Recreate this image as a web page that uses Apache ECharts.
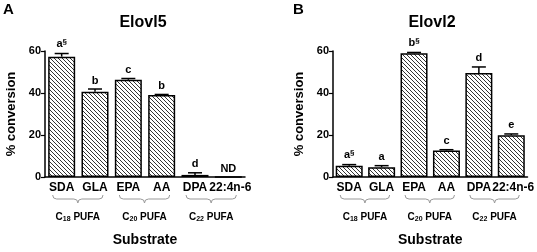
<!DOCTYPE html>
<html>
<head>
<meta charset="utf-8">
<script src="https://cdn.jsdelivr.net/npm/echarts@6/dist/echarts.min.js"></script>
<style>
  html, body { margin: 0; padding: 0; background: #fff; }
  #chart { width: 537px; height: 252px; }
</style>
</head>
<body>
<div id="chart"></div>
<script>
// 底物
const categories = ['SDA', 'GLA', 'EPA', 'AA', 'DPA', '22:4n-6']
// Elovl5 转化率 (均值 / 误差)
const elovl5Mean = [57.3, 40.6, 46.3, 39.0, 1.0, 0]
const elovl5Err = [1.5, 1.3, 0.6, 0.3, 1.0, 0]
const elovl5Letters = ['a§', 'b', 'c', 'b', 'd', 'ND']
// Elovl2 转化率
const elovl2Mean = [5.3, 4.7, 58.9, 12.6, 49.5, 19.9]
const elovl2Err = [0.6, 0.7, 0.4, 0.4, 2.9, 0.6]
const elovl2Letters = ['a§', 'a', 'b§', 'c', 'd', 'e']
// 分组
const groupCarbons = ['18', '20', '22']
const groupStart = [0, 2, 4]
const groupEnd = [1, 3, 5]
const yTicks = [0, 20, 40, 60]

const font = 'Liberation Sans, Arial, sans-serif'

// 斜线填充
function hatch() {
  const s = 4
  const c = document.createElement('canvas')
  c.width = s
  c.height = s
  const ctx = c.getContext('2d')
  ctx.fillStyle = '#fff'
  ctx.fillRect(0, 0, s, s)
  ctx.strokeStyle = '#000'
  ctx.lineWidth = 0.8
  ctx.beginPath()
  ctx.moveTo(-1, -1); ctx.lineTo(s + 1, s + 1)
  ctx.moveTo(-1, s - 1); ctx.lineTo(1, s + 1)
  ctx.moveTo(s - 1, -1); ctx.lineTo(s + 1, 1)
  ctx.stroke()
  return c
}
const pattern = hatch()

const myChart = echarts.init(document.getElementById('chart'))

function errorSeries(idx, mean, err, letters) {
  return {
    type: 'custom',
    xAxisIndex: idx,
    yAxisIndex: idx,
    clip: false,
    z: 5,
    data: mean.map((m, i) => [i, m, err[i]]),
    renderItem: (params, api) => {
      const i = api.value(0)
      const m = api.value(1)
      const e = api.value(2)
      const base = api.coord([i, m])
      const top = api.coord([i, m + e])
      const children = []
      if (e > 0) {
        children.push({ type: 'line', shape: { x1: base[0], y1: base[1], x2: top[0], y2: top[1] }, style: { stroke: '#000', lineWidth: 1.5 } })
        children.push({ type: 'line', shape: { x1: top[0] - 7, y1: top[1], x2: top[0] + 7, y2: top[1] }, style: { stroke: '#000', lineWidth: 1.5 } })
      }
      const lab = letters[params.dataIndex]
      const txt = lab.indexOf('§') >= 0 ? lab.replace('§', '') + '{sup|§}' : lab
      children.push({
        type: 'text',
        style: {
          text: txt,
          x: top[0],
          y: top[1] - 3,
          align: 'center',
          verticalAlign: 'bottom',
          font: 'bold 11px ' + font,
          fill: '#000',
          rich: { sup: { fontSize: 8, fontWeight: 'bold', fontFamily: font, padding: [0, 0, 5, 0] } }
        }
      })
      return { type: 'group', children }
    }
  }
}

function braceSeries(idx) {
  return {
    type: 'custom',
    xAxisIndex: idx,
    yAxisIndex: idx,
    clip: false,
    silent: true,
    data: groupStart.map((s, i) => [s, groupEnd[i], 0]),
    renderItem: (params, api) => {
      const a = api.coord([api.value(0), 0])
      const b = api.coord([api.value(1), 0])
      const x0 = a[0] - 9
      const x1 = b[0] + 8
      const xm = (x0 + x1) / 2
      const y = a[1] + 18
      const path = 'M' + x0 + ' ' + y + ' Q' + x0 + ' ' + (y + 4) + ' ' + (x0 + 4) + ' ' + (y + 4) +
        ' L' + (xm - 4) + ' ' + (y + 4) + ' Q' + xm + ' ' + (y + 4) + ' ' + xm + ' ' + (y + 8) +
        ' Q' + xm + ' ' + (y + 4) + ' ' + (xm + 4) + ' ' + (y + 4) +
        ' L' + (x1 - 4) + ' ' + (y + 4) + ' Q' + x1 + ' ' + (y + 4) + ' ' + x1 + ' ' + y
      return {
        type: 'group',
        children: [
          { type: 'path', shape: { pathData: path }, style: { stroke: '#999', lineWidth: 1, fill: null } },
          {
            type: 'text',
            style: {
              text: 'C{sub|' + groupCarbons[params.dataIndex] + '} PUFA',
              x: xm,
              y: y + 22,
              align: 'center',
              verticalAlign: 'middle',
              font: 'bold 10px ' + font,
              fill: '#000',
              rich: { sub: { fontSize: 7, fontWeight: 'bold', fontFamily: font, padding: [5, 0, 0, 0] } }
            }
          }
        ]
      }
    }
  }
}

function xAxis(idx) {
  return {
    type: 'category',
    gridIndex: idx,
    data: categories,
    name: 'Substrate',
    nameLocation: 'middle',
    nameGap: 56,
    nameTextStyle: { fontFamily: font, fontWeight: 'bold', fontSize: 14, color: '#000' },
    axisLine: { lineStyle: { color: '#000', width: 1.5 } },
    axisTick: { show: false },
    axisLabel: {
      interval: 0,
      margin: 5,
      color: '#000',
      fontFamily: font,
      fontWeight: 'bold',
      fontSize: 12,
      // 最后一个标签略右移，和 DPA 留出空隙
      formatter: (v) => (v === '22:4n-6' ? '{r|' + v + '}' : v),
      rich: { r: { fontFamily: font, fontWeight: 'bold', fontSize: 12, padding: [0, 0, 0, 4] } }
    }
  }
}

function yAxis(idx) {
  return {
    type: 'value',
    gridIndex: idx,
    min: yTicks[0],
    max: yTicks[yTicks.length - 1],
    interval: 20,
    name: '% conversion',
    nameLocation: 'middle',
    nameGap: 27,
    nameTextStyle: { fontFamily: font, fontWeight: 'bold', fontSize: 13, color: '#000' },
    axisLine: { show: true, lineStyle: { color: '#000', width: 1.5 } },
    axisTick: { show: true, length: 4, lineStyle: { color: '#000', width: 1.2 } },
    axisLabel: { margin: 4, color: '#000', fontFamily: font, fontWeight: 'bold', fontSize: 11 },
    splitLine: { show: false }
  }
}

function barSeries(idx, mean) {
  return {
    type: 'bar',
    xAxisIndex: idx,
    yAxisIndex: idx,
    barWidth: 27,
    data: mean,
    itemStyle: { color: { image: pattern, repeat: 'repeat' }, borderColor: '#000', borderWidth: 1.5 }
  }
}

const option = {
  animation: false,
  textStyle: { fontFamily: font },
  grid: [
    { left: 45, width: 200, top: 51, height: 132 },
    { left: 333, width: 198, top: 51, height: 132 }
  ],
  xAxis: [xAxis(0), xAxis(1)],
  yAxis: [yAxis(0), yAxis(1)],
  graphic: [
    { type: 'text', left: 3, top: 2, style: { text: 'A', font: 'bold 15px ' + font, fill: '#000' } },
    { type: 'text', left: 293, top: 2, style: { text: 'B', font: 'bold 15px ' + font, fill: '#000' } },
    { type: 'text', x: 143, y: 23, style: { text: 'Elovl5', font: 'bold 16px ' + font, fill: '#000', align: 'center', verticalAlign: 'middle' } },
    { type: 'text', x: 432, y: 23, style: { text: 'Elovl2', font: 'bold 16px ' + font, fill: '#000', align: 'center', verticalAlign: 'middle' } }
  ],
  series: [
    barSeries(0, elovl5Mean),
    barSeries(1, elovl2Mean),
    errorSeries(0, elovl5Mean, elovl5Err, elovl5Letters),
    errorSeries(1, elovl2Mean, elovl2Err, elovl2Letters),
    braceSeries(0),
    braceSeries(1)
  ]
}
myChart.setOption(option)
window.addEventListener('resize', function() {
  myChart.resize()
})
</script>
</body>
</html>
